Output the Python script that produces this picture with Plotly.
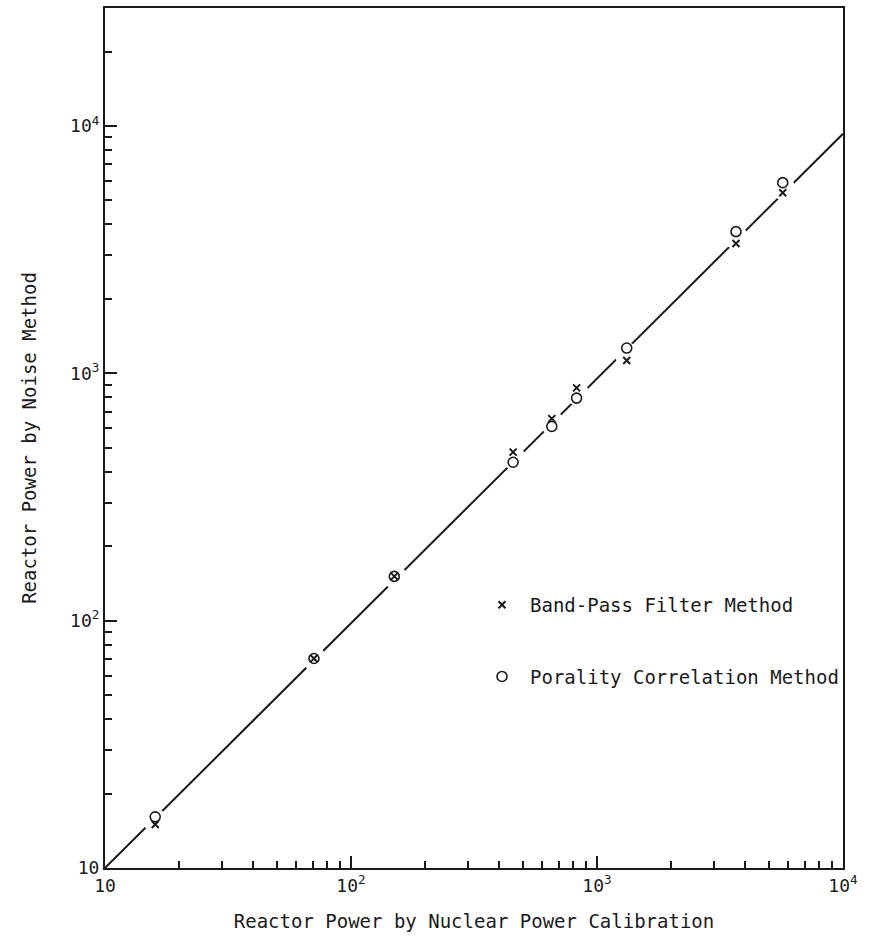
import plotly.graph_objects as go

# Data
x_vals = [16, 70.7, 150, 456, 655, 826, 1321, 3673, 5690]
bandpass_y = [15, 70.3, 151, 480, 656, 873, 1127, 3350, 5370]
porality_y = [16.1, 70.3, 151, 437, 610, 794, 1265, 3740, 5900]
fit_x = [10, 10000]
fit_y = [10, 9300]

tick_vals = [10, 100, 1000, 10000]
tick_text = ["10", "10<sup>2</sup>", "10<sup>3</sup>", "10<sup>4</sup>"]
minor_vals = [m * d for d in [10, 100, 1000, 10000] for m in range(2, 10)]

FONT = "DejaVu Sans Mono"

fig = go.Figure()
fig.add_trace(go.Scatter(x=fit_x, y=fit_y, mode="lines",
                         line=dict(color="#1a1a1a", width=2),
                         showlegend=False, hoverinfo="skip"))
# white gaps around points
fig.add_trace(go.Scatter(x=x_vals, y=[(a * b) ** 0.5 for a, b in zip(bandpass_y, porality_y)],
                         mode="markers",
                         marker=dict(symbol="circle", size=24, color="white",
                                     line=dict(width=0)),
                         showlegend=False, hoverinfo="skip"))
fig.add_trace(go.Scatter(x=x_vals, y=bandpass_y, mode="markers",
                         name="Band-Pass Filter Method", legendgroup="a",
                         marker=dict(symbol="x-thin-open", size=7, color="#1a1a1a",
                                     line=dict(width=2, color="#1a1a1a"))))
fig.add_trace(go.Scatter(x=x_vals, y=porality_y, mode="markers",
                         name="Porality Correlation Method", legendgroup="b",
                         marker=dict(symbol="circle-open", size=10, color="#1a1a1a",
                                     line=dict(width=1.6, color="#1a1a1a"))))

axis_common = dict(
    type="log", showgrid=False, zeroline=False,
    showline=True, linecolor="#1a1a1a", linewidth=2, mirror=True,
    ticks="inside", ticklen=12, tickwidth=1.5, tickcolor="#1a1a1a",
    tickvals=tick_vals, ticktext=tick_text,
    tickfont=dict(family=FONT, size=18, color="#1a1a1a"),
    minor=dict(tickvals=minor_vals, ticks="inside", ticklen=7,
               tickwidth=1.5, tickcolor="#1a1a1a", showgrid=False),
)

fig.update_layout(
    width=881, height=940,
    margin=dict(l=105, r=38, t=6, b=72),
    paper_bgcolor="white", plot_bgcolor="white",
    font=dict(family=FONT, size=19, color="#1a1a1a"),
    xaxis=dict(range=[1, 4], title=dict(text="Reactor Power by Nuclear Power Calibration",
                                        font=dict(size=19), standoff=20),
               **axis_common),
    yaxis=dict(range=[1, 4.477], title=dict(text="Reactor Power by Noise Method",
                                            font=dict(size=19), standoff=28),
               **axis_common),
    legend=dict(x=0.5, y=0.328, xanchor="left", yanchor="top",
                traceorder="grouped", tracegroupgap=44, itemwidth=46,
                bgcolor="rgba(0,0,0,0)", font=dict(family=FONT, size=19)),
)

fig.write_html("out.html")
